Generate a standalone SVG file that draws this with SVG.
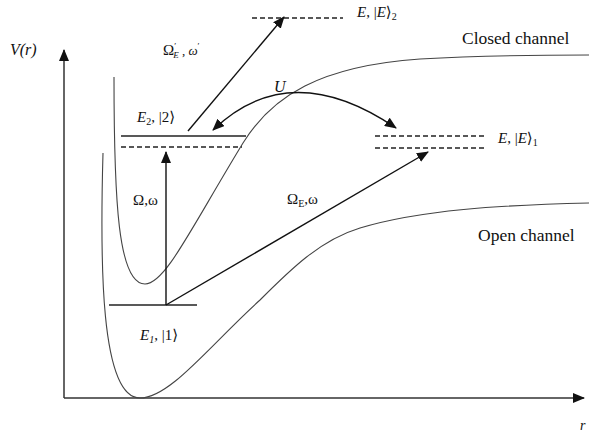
<svg xmlns="http://www.w3.org/2000/svg" width="589" height="441" viewBox="0 0 589 441" font-family="'Liberation Serif', 'DejaVu Serif', 'Times New Roman', serif">
<style>
text{font-family:'Liberation Serif','DejaVu Serif','Times New Roman',serif;fill:#111}
.it{font-style:italic}
.ax{stroke:#333;stroke-width:1.5;fill:none}
.cv{stroke:#444;stroke-width:1.1;fill:none}
.lv{stroke:#222;stroke-width:1.3;fill:none}
.ds{stroke:#222;stroke-width:1.3;fill:none;stroke-dasharray:5 3}
.ar{stroke:#111;stroke-width:1.4;fill:none}
</style>
<defs>
<marker id="ah" markerUnits="userSpaceOnUse" markerWidth="12" markerHeight="10" refX="11" refY="5" orient="auto">
<path d="M0,0 L12,5 L0,10 Z" fill="#111"/>
</marker>
<marker id="ahs" markerUnits="userSpaceOnUse" markerWidth="12" markerHeight="10" refX="1" refY="5" orient="auto">
<path d="M12,0 L0,5 L12,10 Z" fill="#111"/>
</marker>
</defs>
<rect width="589" height="441" fill="#fff"/>
<g id="axes">
<line class="ax" x1="64" y1="398" x2="64" y2="50" marker-end="url(#ah)"/>
<line class="ax" x1="64" y1="398" x2="584" y2="398" marker-end="url(#ah)"/>
<text class="it" x="10" y="55" font-size="16">V(r)</text>
<text class="it" x="580" y="430" font-size="14">r</text>
</g>
<g id="closed-channel">
<path class="cv" d="M114,77 C114,200 118,284 145,284 C165,284 190,230 243,143 C272,96 320,66 420,59 C490,55 550,55 589,55"/>
<text x="462" y="44" font-size="17.5">Closed channel</text>
</g>
<g id="open-channel">
<path class="cv" d="M103,153 C100,260 100,398 140,398 C170,398 210,345 260,300 C290,270 320,240 360,228 C420,210 500,205 589,203"/>
<text x="478" y="241" font-size="17.5">Open channel</text>
</g>
<g id="level-E1">
<line class="lv" x1="109" y1="305" x2="197" y2="305"/>
<text x="140" y="340" font-size="15"><tspan class="it">E</tspan><tspan class="it" font-size="10" dy="3">1</tspan><tspan dy="-3">, |1⟩</tspan></text>
</g>
<g id="level-E2">
<line class="lv" x1="121" y1="136" x2="246" y2="136"/>
<line class="ds" x1="121" y1="147" x2="242" y2="147"/>
<text x="137" y="122" font-size="15"><tspan class="it">E</tspan><tspan font-size="10" dy="3">2</tspan><tspan dy="-3">, |2⟩</tspan></text>
</g>
<g id="level-E-1">
<line class="ds" x1="375" y1="136" x2="484" y2="136"/>
<line class="ds" x1="375" y1="148" x2="484" y2="148"/>
<text x="498" y="143" font-size="15"><tspan class="it">E</tspan>, |<tspan class="it">E</tspan>⟩<tspan font-size="10" dy="3">1</tspan></text>
</g>
<g id="level-E-2">
<line class="ds" x1="252" y1="18" x2="343" y2="18"/>
<text x="357" y="17" font-size="15"><tspan class="it">E</tspan>, |<tspan class="it">E</tspan>⟩<tspan font-size="10" dy="3">2</tspan></text>
</g>
<g id="connectors">
<line class="ar" x1="166" y1="305" x2="166" y2="152" marker-end="url(#ah)"/>
<line class="ar" x1="166" y1="305" x2="428" y2="152" marker-end="url(#ah)"/>
<line class="ar" x1="188" y1="131" x2="284" y2="17" marker-end="url(#ah)"/>
<path class="ar" d="M213,130 Q290,56 396,128" marker-start="url(#ahs)" marker-end="url(#ah)"/>
</g>
<g id="labels">
<text x="133" y="205" font-size="15">Ω,ω</text>
<text x="287" y="204" font-size="15">Ω<tspan font-size="10" dy="3">E</tspan><tspan dy="-3">,ω</tspan></text>
<text x="163" y="55" font-size="15">Ω<tspan font-size="9" dy="-6">′</tspan><tspan class="it" font-size="9" dx="-3" dy="9">E</tspan><tspan font-size="13" dy="-3"> , </tspan><tspan class="it" font-size="13">ω</tspan><tspan font-size="9" dy="-6">′</tspan></text>
<text class="it" x="274" y="92" font-size="16">U</text>
</g>
</svg>
